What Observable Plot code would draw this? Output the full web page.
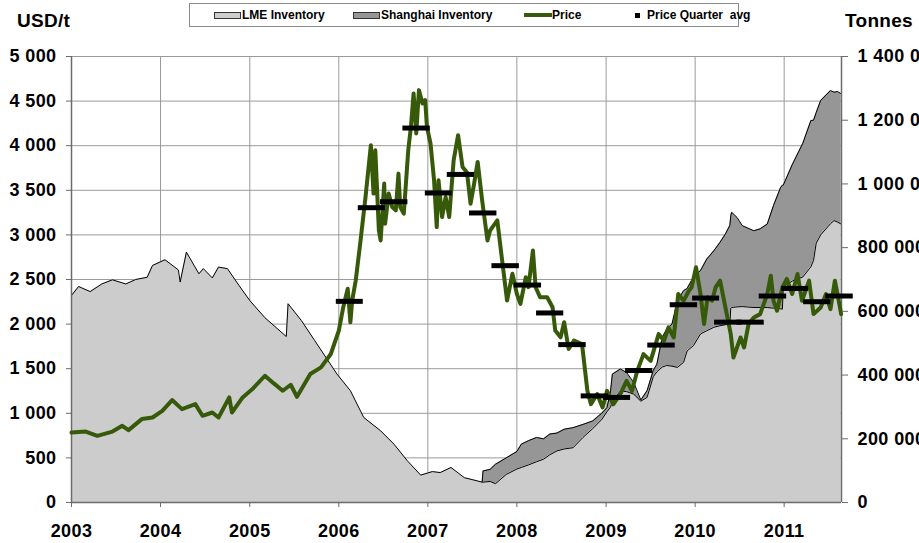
<!DOCTYPE html>
<html><head><meta charset="utf-8">
<script src="https://cdn.jsdelivr.net/npm/d3@7"></script>
<script src="https://cdn.jsdelivr.net/npm/@observablehq/plot@0.6"></script>
<style>
body{margin:0;background:#fff;overflow:hidden;font-family:"Liberation Sans",Arial,sans-serif;}
#wrap{position:relative;width:919px;height:543px;overflow:hidden;}
#chart{position:absolute;left:0;top:0;}
#chart svg text{letter-spacing:0.4px;}
.title{position:absolute;font-weight:bold;font-size:19px;color:#000;letter-spacing:0.3px;}
#legend{position:absolute;left:189px;top:3px;width:550px;height:24px;border:1px solid #8a8a8a;box-sizing:border-box;font-size:12px;font-weight:bold;background:#fff;}
.lt{position:absolute;top:0;line-height:22px;white-space:nowrap;}
.sw{position:absolute;box-sizing:border-box;}
</style></head>
<body>
<div id="wrap">
<div id="chart"></div>
<div class="title" style="left:17px;top:10px">USD/t</div>
<div class="title" style="left:845px;top:10px">Tonnes</div>
<div id="legend">
  <span class="sw" style="left:24px;top:8px;width:27px;height:7px;background:#cccccc;border:1px solid #333"></span>
  <span class="lt" style="left:52px">LME Inventory</span>
  <span class="sw" style="left:163px;top:8px;width:27px;height:7px;background:#969696;border:1px solid #333"></span>
  <span class="lt" style="left:191px">Shanghai Inventory</span>
  <span class="sw" style="left:334px;top:9px;width:28px;height:4px;background:#375a0a"></span>
  <span class="lt" style="left:362px">Price</span>
  <span class="sw" style="left:445px;top:9px;width:5px;height:5px;background:#000"></span>
  <span class="lt" style="left:457px">Price Quarter&nbsp; avg</span>
</div>
</div>
<script>
// ---- Data ----
// Zinc price, USD/t (decimal year, value)
const priceYears = [2003.00,2003.16,2003.29,2003.46,2003.57,2003.64,2003.79,2003.91,2004.02,2004.13,2004.24,2004.39,2004.47,2004.58,2004.65,2004.77,2004.80,2004.92,2005.03,2005.17,2005.27,2005.37,2005.46,2005.53,2005.68,2005.80,2005.91,2006.00,2006.05,2006.10,2006.13,2006.15,2006.19,2006.24,2006.30,2006.36,2006.39,2006.41,2006.45,2006.47,2006.51,2006.52,2006.56,2006.60,2006.64,2006.67,2006.69,2006.73,2006.78,2006.81,2006.84,2006.87,2006.90,2006.94,2006.97,2006.99,2007.03,2007.07,2007.10,2007.12,2007.16,2007.20,2007.24,2007.29,2007.34,2007.39,2007.44,2007.48,2007.52,2007.56,2007.61,2007.67,2007.70,2007.78,2007.83,2007.89,2007.95,2008.00,2008.04,2008.10,2008.13,2008.18,2008.21,2008.26,2008.34,2008.40,2008.43,2008.49,2008.53,2008.58,2008.64,2008.73,2008.79,2008.83,2008.90,2008.96,2009.01,2009.08,2009.16,2009.23,2009.29,2009.35,2009.42,2009.50,2009.59,2009.65,2009.70,2009.76,2009.81,2009.87,2009.93,2009.96,2010.01,2010.06,2010.10,2010.14,2010.19,2010.23,2010.28,2010.34,2010.40,2010.43,2010.47,2010.51,2010.55,2010.60,2010.66,2010.73,2010.81,2010.85,2010.88,2010.92,2010.98,2011.03,2011.09,2011.15,2011.20,2011.28,2011.33,2011.41,2011.47,2011.52,2011.57,2011.62,2011.64];
const priceUSD = [784,795,747,795,860,811,935,953,1028,1148,1047,1103,972,1009,953,1178,1009,1178,1272,1421,1335,1253,1320,1185,1440,1515,1665,1927,2189,2396,2020,2264,2489,2901,3425,4006,3463,3949,3051,2938,3575,3126,3463,3312,3275,3687,3312,3238,3949,4211,4586,4137,4623,4474,4511,4211,4025,3612,3088,3612,3200,3425,3200,3837,4118,3762,3700,3350,3575,3818,3387,2938,3051,3163,2751,2264,2564,2339,2227,2526,2414,2826,2414,2301,2301,2189,1927,1852,2020,1721,1815,1777,1253,1103,1216,1065,1251,1101,1214,1363,1251,1476,1663,1588,1888,1813,1963,1850,2337,2262,2374,2412,2637,2337,2000,2300,2262,2412,2487,2187,1888,1625,1738,1850,1738,2000,2075,2112,2337,2543,2262,2150,2412,2506,2337,2562,2262,2487,2112,2187,2337,2168,2487,2225,2112];

// Quarterly average price, USD/t
const quarterLabels = ["2006Q1","2006Q2","2006Q3","2006Q4","2007Q1","2007Q2","2007Q3","2007Q4","2008Q1","2008Q2","2008Q3","2008Q4","2009Q1","2009Q2","2009Q3","2009Q4","2010Q1","2010Q2","2010Q3","2010Q4","2011Q1","2011Q2","2011Q3"];
const quarterAvgUSD = [2255,3305,3372,4198,3470,3678,3246,2655,2438,2125,1770,1195,1178,1480,1765,2217,2292,2022,2022,2315,2400,2251,2315];

// Inventories, thousand tonnes (decimal year); Shanghai null before it is reported
const invYears = [2003.00,2003.08,2003.21,2003.34,2003.46,2003.61,2003.72,2003.85,2003.91,2004.05,2004.20,2004.22,2004.29,2004.43,2004.48,2004.58,2004.65,2004.75,2004.88,2005.00,2005.17,2005.41,2005.43,2005.58,2005.73,2005.98,2006.13,2006.28,2006.47,2006.62,2006.77,2006.92,2007.05,2007.14,2007.26,2007.41,2007.61,2007.62,2007.70,2007.76,2007.88,2008.00,2008.05,2008.13,2008.22,2008.30,2008.37,2008.45,2008.53,2008.63,2008.74,2008.85,2008.95,2009.01,2009.05,2009.07,2009.16,2009.23,2009.31,2009.39,2009.46,2009.53,2009.57,2009.63,2009.68,2009.74,2009.80,2009.87,2009.91,2009.98,2010.06,2010.13,2010.21,2010.28,2010.34,2010.39,2010.40,2010.41,2010.47,2010.53,2010.66,2010.73,2010.81,2010.88,2010.96,2010.98,2010.99,2011.09,2011.21,2011.30,2011.33,2011.36,2011.41,2011.52,2011.56,2011.60,2011.64];
const lmeKt = [650,678,662,686,699,686,700,707,744,762,730,692,786,718,734,705,739,734,681,634,580,521,624,571,508,403,351,267,225,183,131,86,97,94,110,78,64,64,66,59,88,105,110,118,128,136,150,162,168,172,204,232,260,285,300,320,350,348,340,318,330,395,410,425,430,428,424,440,476,492,529,539,550,555,558,560,610,612,614,615,612,612,612,610,608,607,676,695,708,740,760,814,840,875,885,880,874];
const shanghaiKt = [null,null,null,null,null,null,null,null,null,null,null,null,null,null,null,null,null,null,null,null,null,null,null,null,null,null,null,null,null,null,null,null,null,null,null,null,0,35,38,61,52,55,73,76,76,64,65,56,62,63,41,24,20,13,50,83,69,60,37,4,21,20,24,93,114,132,209,225,196,215,199,225,240,262,285,310,290,299,281,254,241,247,262,322,381,389,320,365,420,459,440,410,422,418,403,410,409];

const tonneTicks = [0,200000,400000,600000,800000,1000000,1200000,1400000];
const usdTicks = [0,500,1000,1500,2000,2500,3000,3500,4000,4500,5000];
const yearTicks = [2003,2004,2005,2006,2007,2008,2009,2010,2011];

// ---- helpers ----
const RATIO = 1400000 / 5000; // tonnes per USD (twin axes share one scale)
const toDate = y => { const yr = Math.floor(y); const s = Date.UTC(yr,0,1), e = Date.UTC(yr+1,0,1); return new Date(s + (y-yr)*(e-s)); };
const fmt = n => d3.format(",")(n).replace(/,/g, " ");
const green = "#375a0a";

const price = priceYears.map((y,i) => ({date: toDate(y), v: priceUSD[i]}));
const inv = invYears.map((y,i) => ({date: toDate(y), lme: lmeKt[i]*1000, sh: shanghaiKt[i] == null ? null : shanghaiKt[i]*1000}));
const invSh = inv.filter(d => d.sh != null);
const quarters = quarterLabels.map((q,i) => {
  const yr = +q.slice(0,4), k = +q.slice(5) - 1;
  return {x1: new Date(Date.UTC(yr, 3*k, 1)), x2: new Date(Date.UTC(yr, 3*k+3, 1)), v: quarterAvgUSD[i]};
});
const xDomain = [toDate(2003), toDate(2011.644)];

const chart = Plot.plot({
  width: 919, height: 543,
  marginLeft: 71, marginRight: 78, marginTop: 56, marginBottom: 41,
  style: {fontFamily: "'Liberation Sans', Arial, sans-serif", fontSize: "18px", fontWeight: "bold", color: "#000", background: "#fff"},
  x: {type: "utc", domain: xDomain},
  y: {domain: [0, 5000]},
  marks: [
    Plot.gridY({ticks: usdTicks.slice(1), stroke: "#9a9a9a", strokeOpacity: 1}),
    Plot.gridX({ticks: yearTicks.slice(1).map(toDate), stroke: "#9a9a9a", strokeOpacity: 1}),
    Plot.areaY(inv, {x: "date", y: d => d.lme / RATIO, fill: "#cccccc", curve: "linear"}),
    Plot.areaY(invSh, {x: "date", y1: d => d.lme / RATIO, y2: d => (d.lme + d.sh) / RATIO, fill: "#969696"}),
    Plot.lineY(inv, {x: "date", y: d => d.lme / RATIO, stroke: "#000", strokeWidth: 1}),
    Plot.lineY(invSh, {x: "date", y: d => (d.lme + d.sh) / RATIO, stroke: "#000", strokeWidth: 1}),
    Plot.ruleX(xDomain, {stroke: "#6b6b6b", strokeWidth: 1.5}),
    Plot.ruleY([0], {stroke: "#6b6b6b", strokeWidth: 1.5}),
    Plot.lineY(price, {x: "date", y: "v", stroke: green, strokeWidth: 4, strokeLinejoin: "round"}),
    Plot.ruleY(quarters, {x1: "x1", x2: "x2", y: "v", stroke: "#000", strokeWidth: 5, strokeLinecap: "square"}),
    Plot.axisY({anchor: "left", ticks: usdTicks, tickFormat: fmt, tickSize: 5, tickPadding: 10, label: null, stroke: "#6b6b6b"}),
    Plot.axisY({anchor: "right", ticks: tonneTicks.map(t => t / RATIO), tickFormat: d => fmt(Math.round(d * RATIO)), tickSize: 6, tickPadding: 10, label: null, stroke: "#6b6b6b"}),
    Plot.axisX({ticks: yearTicks.map(toDate), tickFormat: d3.utcFormat("%Y"), tickSize: 5, tickPadding: 17, label: null, stroke: "#6b6b6b"})
  ]
});
document.getElementById("chart").appendChild(chart);
</script>
</body></html>
